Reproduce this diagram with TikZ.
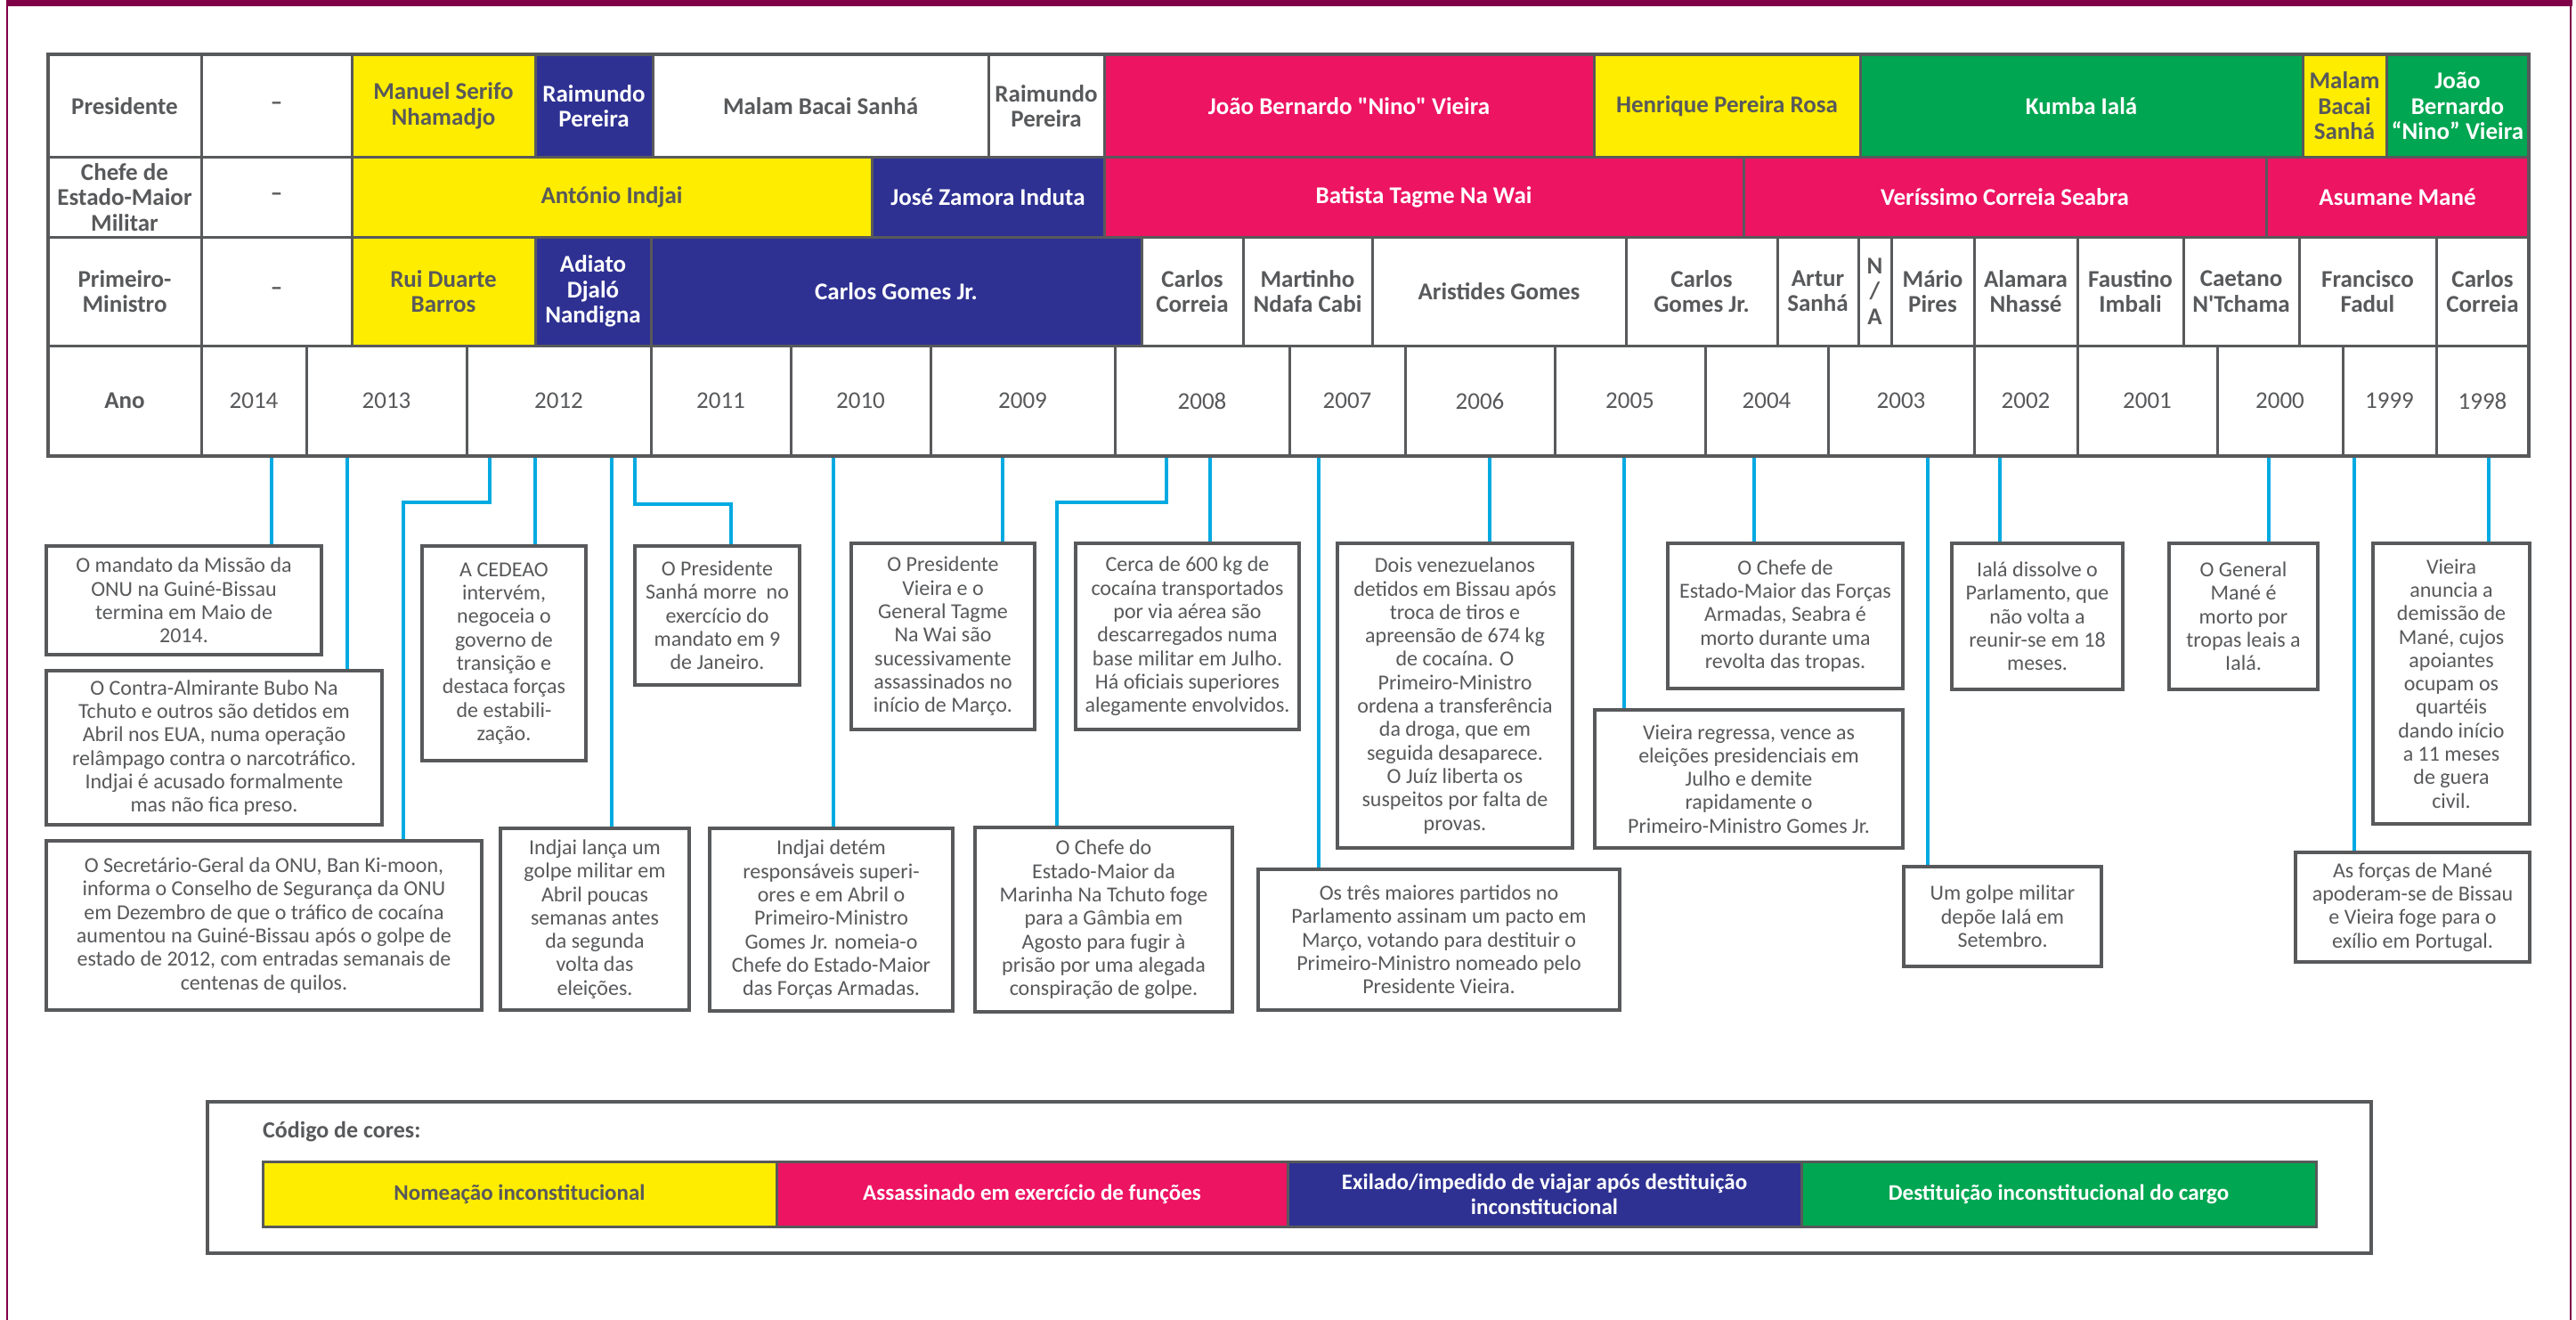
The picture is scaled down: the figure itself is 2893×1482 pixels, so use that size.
\documentclass[tikz,border=0pt]{standalone}
\usepackage{fontspec}
\setmainfont{Carlito}
\definecolor{ymain}{RGB}{255,237,0}
\definecolor{mag}{RGB}{237,20,98}
\definecolor{navy}{RGB}{46,49,146}
\definecolor{grn}{RGB}{0,166,81}
\definecolor{gline}{RGB}{88,89,91}
\definecolor{gtext}{RGB}{88,89,91}
\definecolor{cyanl}{RGB}{0,170,225}
\definecolor{framec}{RGB}{128,0,72}
\tikzset{
 tcell/.style={draw=gline, line width=3pt, inner sep=0pt, align=center, font=\fontsize{27}{28.5}\selectfont\bfseries},
 yfont/.style={font=\fontsize{27}{29}\selectfont},
 lfont/.style={font=\fontsize{25}{28}\selectfont\bfseries},
 evbox/.style={draw=gline, line width=4pt, fill=white, inner sep=0pt, align=center, text=gtext, font=\fontsize{24}{26.3}\selectfont},
 conn/.style={draw=cyanl, line width=4pt},
 legbox/.style={draw=gline, line width=4pt, fill=white, inner sep=0pt},
}
\newcommand{\mkcell}[9][]{\node[tcell,#1, fill=#7, text=#8, minimum width={(#5)-(#3)}, minimum height={(#6)-(#4)}] (#2) at ({((#3)+(#5))/2},{((#4)+(#6))/2}) {#9};}
\newcommand{\mkyear}[4]{\mkcell[yfont]{#1}{#2}{388}{#3}{512}{white}{gtext}{#4}}
\newcommand{\mkbox}[6]{\node[evbox, minimum width={(#4)-(#2)}, minimum height={(#5)-(#3)}] (#1) at ({((#2)+(#4))/2},{((#3)+(#5))/2}) {#6};}
\newcommand{\noq}{\addfontfeatures{Ligatures=TeXOff}}
\begin{document}
\begin{tikzpicture}[x=1pt,y=-1pt]
\useasboundingbox (0,0) rectangle (2893,1482);
% frame
\fill[framec] (7,0) rectangle (2889,7.5);
\draw[framec, line width=2.5pt] (8,0) -- (8,1482);
\draw[framec, line width=2.5pt] (2887,0) -- (2887,1482);

% connector start points
\coordinate (a1) at (305,512);
\coordinate (a2) at (390,512);
\coordinate (a3) at (550,512); \coordinate (k3) at (453,564);
\coordinate (a4) at (601,512);
\coordinate (a5) at (687,512);
\coordinate (a6) at (713,512); \coordinate (k6) at (821,566);
\coordinate (a7) at (936,512);
\coordinate (a8) at (1126,512);
\coordinate (a9) at (1310,512); \coordinate (k9) at (1187,564);
\coordinate (a10) at (1359,512);
\coordinate (a11) at (1481,512);
\coordinate (a12) at (1673,512);
\coordinate (a13) at (1824,512);
\coordinate (a14) at (1970,512);
\coordinate (a15) at (2165,512);
\coordinate (a16) at (2246,512);
\coordinate (a17) at (2548,512);
\coordinate (a18) at (2644,512);
\coordinate (a19) at (2795,512);

% event boxes
\mkbox{bA}{52}{613}{361}{735}{O mandato da Missão da\\ONU na Guiné-Bissau\\termina em Maio de\\2014.}
\mkbox{bB}{52}{753}{429}{926}{O Contra-Almirante Bubo Na\\Tchuto e outros são detidos em\\Abril nos EUA, numa operação\\relâmpago contra o narcotráfico.\\Indjai é acusado formalmente\\mas não fica preso.}
\mkbox{bC}{52}{944}{541}{1134}{O Secretário-Geral da ONU, Ban Ki-moon,\\informa o Conselho de Segurança da ONU\\em Dezembro de que o tráfico de cocaína\\aumentou na Guiné-Bissau após o golpe de\\estado de 2012, com entradas semanais de\\centenas de quilos.}
\mkbox{bD}{474}{613}{658}{854}{A CEDEAO\\intervém,\\negoceia o\\governo de\\transição e\\destaca forças\\de estabili-\\zação.}
\mkbox{bE}{713}{613}{898}{769}{O Presidente\\Sanhá morre~ no\\exercício do\\mandato em 9\\de Janeiro.}
\mkbox{bF}{562}{930}{774}{1134}{Indjai lança um\\golpe militar em\\Abril poucas\\semanas antes\\da segunda\\volta das\\eleições.}
\mkbox{bG}{797}{930}{1070}{1135}{Indjai detém\\responsáveis superi-\\ores e em Abril o\\Primeiro-Ministro\\Gomes Jr. nomeia-o\\Chefe do Estado-Maior\\das Forças Armadas.}
\mkbox{bH}{956}{610}{1162}{819}{O Presidente\\Vieira e o\\General Tagme\\Na Wai são\\sucessivamente\\assassinados no\\início de Março.}
\mkbox{bI}{1095}{929}{1384}{1136}{O Chefe do\\Estado-Maior da\\Marinha Na Tchuto foge\\para a Gâmbia em\\Agosto para fugir à\\prisão por uma alegada\\conspiração de golpe.}
\mkbox{bJ}{1208}{610}{1459}{819}{Cerca de 600 kg de\\cocaína transportados\\por via aérea são\\descarregados numa\\base militar em Julho.\\Há oficiais superiores\\alegamente envolvidos.}
\mkbox{bK}{1502}{610}{1766}{952}{Dois venezuelanos\\detidos em Bissau após\\troca de tiros e\\apreensão de 674 kg\\de cocaína. O\\Primeiro-Ministro\\ordena a transferência\\da droga, que em\\seguida desaparece.\\O Juíz liberta os\\suspeitos por falta de\\provas.}
\mkbox{bL}{1413}{976}{1819}{1134}{Os três maiores partidos no\\Parlamento assinam um pacto em\\Março, votando para destituir o\\Primeiro-Ministro nomeado pelo\\Presidente Vieira.}
\mkbox{bM}{1791}{797}{2137}{952}{Vieira regressa, vence as\\eleições presidenciais em\\Julho e demite\\rapidamente o\\Primeiro-Ministro Gomes Jr.}
\mkbox{bN}{1873}{610}{2137}{773}{O Chefe de\\Estado-Maior das Forças\\Armadas, Seabra é\\morto durante uma\\revolta das tropas.}
\mkbox{bO}{2138}{973}{2360}{1085}{Um golpe militar\\depõe Ialá em\\Setembro.}
\mkbox{bP}{2192}{610}{2384}{774}{Ialá dissolve o\\Parlamento, que\\não volta a\\reunir-se em 18\\meses.}
\mkbox{bQ}{2436}{610}{2603}{774}{O General\\Mané é\\morto por\\tropas leais a\\Ialá.}
\mkbox{bR}{2665}{610}{2841}{925}{Vieira\\anuncia a\\demissão de\\Mané, cujos\\apoiantes\\ocupam os\\quartéis\\dando início\\a 11 meses\\de guera\\civil.}
\mkbox{bS}{2578}{957}{2841}{1080}{As forças de Mané\\apoderam-se de Bissau\\e Vieira foge para o\\exílio em Portugal.}

% connectors
\draw[conn] (a1) -- (a1 |- bA.north);
\draw[conn] (a2) -- (a2 |- bB.north);
\draw[conn] (a3) |- (k3) -- (k3 |- bC.north);
\draw[conn] (a4) -- (a4 |- bD.north);
\draw[conn] (a5) -- (a5 |- bF.north);
\draw[conn] (a6) |- (k6) -- (k6 |- bE.north);
\draw[conn] (a7) -- (a7 |- bG.north);
\draw[conn] (a8) -- (a8 |- bH.north);
\draw[conn] (a9) |- (k9) -- (k9 |- bI.north);
\draw[conn] (a10) -- (a10 |- bJ.north);
\draw[conn] (a11) -- (a11 |- bL.north);
\draw[conn] (a12) -- (a12 |- bK.north);
\draw[conn] (a13) -- (a13 |- bM.north);
\draw[conn] (a14) -- (a14 |- bN.north);
\draw[conn] (a15) -- (a15 |- bO.north);
\draw[conn] (a16) -- (a16 |- bP.north);
\draw[conn] (a17) -- (a17 |- bQ.north);
\draw[conn] (a18) -- (a18 |- bS.north);
\draw[conn] (a19) -- (a19 |- bR.north);

% table: labels
\mkcell{l1}{54}{61}{226}{177}{white}{gtext}{Presidente}
\mkcell{l2}{54}{177}{226}{266}{white}{gtext}{Chefe de\\Estado-Maior\\Militar}
\mkcell{l3}{54}{266}{226}{388}{white}{gtext}{Primeiro-\\Ministro}
\mkcell{l4}{54}{388}{226}{512}{white}{gtext}{Ano}
% row 1
\mkcell{p1}{226}{61}{395}{177}{white}{gtext}{–}
\mkcell{p2}{395}{61}{601}{177}{ymain}{gtext}{Manuel Serifo\\Nhamadjo}
\mkcell{p3}{601}{61}{733}{177}{navy}{white}{Raimundo\\Pereira}
\mkcell{p4}{733}{61}{1110}{177}{white}{gtext}{Malam Bacai Sanhá}
\mkcell{p5}{1110}{61}{1240}{177}{white}{gtext}{Raimundo\\Pereira}
\mkcell{p6}{1240}{61}{1790}{177}{mag}{white}{\noq João Bernardo "Nino" Vieira}
\mkcell{p7}{1790}{61}{2089}{177}{ymain}{gtext}{Henrique Pereira Rosa}
\mkcell{p8}{2089}{61}{2586}{177}{grn}{white}{Kumba Ialá}
\mkcell{p9}{2586}{61}{2680}{177}{ymain}{gtext}{Malam\\Bacai\\Sanhá}
\mkcell{p10}{2680}{61}{2840}{177}{grn}{white}{João\\Bernardo\\“Nino” Vieira}
% row 2
\mkcell{c1}{226}{177}{395}{266}{white}{gtext}{–}
\mkcell{c2}{395}{177}{979}{266}{ymain}{gtext}{António Indjai}
\mkcell{c3}{979}{177}{1240}{266}{navy}{white}{José Zamora Induta}
\mkcell{c4}{1240}{177}{1958}{266}{mag}{white}{Batista Tagme Na Wai}
\mkcell{c5}{1958}{177}{2545}{266}{mag}{white}{Veríssimo Correia Seabra}
\mkcell{c6}{2545}{177}{2840}{266}{mag}{white}{Asumane Mané}
% row 3
\mkcell{m1}{226}{266}{395}{388}{white}{gtext}{–}
\mkcell{m2}{395}{266}{601}{388}{ymain}{gtext}{Rui Duarte\\Barros}
\mkcell{m3}{601}{266}{731}{388}{navy}{white}{Adiato\\Djaló\\Nandigna}
\mkcell{m4}{731}{266}{1282}{388}{navy}{white}{Carlos Gomes Jr.}
\mkcell{m5}{1282}{266}{1396}{388}{white}{gtext}{Carlos\\Correia}
\mkcell{m6}{1396}{266}{1541}{388}{white}{gtext}{Martinho\\Ndafa Cabi}
\mkcell{m7}{1541}{266}{1826}{388}{white}{gtext}{Aristides Gomes}
\mkcell{m8}{1826}{266}{1996}{388}{white}{gtext}{Carlos\\Gomes Jr.}
\mkcell{m9}{1996}{266}{2087}{388}{white}{gtext}{Artur\\Sanhá}
\mkcell{m10}{2087}{266}{2124}{388}{white}{gtext}{N\\/\\A}
\mkcell{m11}{2124}{266}{2217}{388}{white}{gtext}{Mário\\Pires}
\mkcell{m12}{2217}{266}{2333}{388}{white}{gtext}{Alamara\\Nhassé}
\mkcell{m13}{2333}{266}{2452}{388}{white}{gtext}{Faustino\\Imbali}
\mkcell{m14}{2452}{266}{2582}{388}{white}{gtext}{Caetano\\\noq N'Tchama}
\mkcell{m15}{2582}{266}{2736}{388}{white}{gtext}{Francisco\\Fadul}
\mkcell{m16}{2736}{266}{2840}{388}{white}{gtext}{Carlos\\Correia}
% row 4
\mkyear{y14}{226}{344}{2014}
\mkyear{y13}{344}{524}{2013}
\mkyear{y12}{524}{731}{2012}
\mkyear{y11}{731}{888}{2011}
\mkyear{y10}{888}{1045}{2010}
\mkyear{y09}{1045}{1252}{2009}
\mkyear{y08}{1252}{1448}{2008}
\mkyear{y07}{1448}{1578}{2007}
\mkyear{y06}{1578}{1746}{2006}
\mkyear{y05}{1746}{1915}{2005}
\mkyear{y04}{1915}{2053}{2004}
\mkyear{y03}{2053}{2217}{2003}
\mkyear{y02}{2217}{2333}{2002}
\mkyear{y01}{2333}{2490}{2001}
\mkyear{y00}{2490}{2631}{2000}
\mkyear{y99}{2631}{2736}{1999}
\mkyear{y98}{2736}{2840}{1998}
\draw[gline, line width=4.5pt] (54,61) rectangle (2840,512);

% legend
\node[legbox, minimum width=2430, minimum height=170] (leg) at (1448,1322) {};
\node[anchor=west, inner sep=0pt, text=gtext, font=\fontsize{26}{28}\selectfont\bfseries] (legt) at (295,1271) {Código de cores:};
\mkcell[lfont]{g1}{295}{1304}{872}{1377}{ymain}{gtext}{Nomeação inconstitucional}
\mkcell[lfont]{g2}{872}{1304}{1446}{1377}{mag}{white}{Assassinado em exercício de funções}
\mkcell[lfont]{g3}{1446}{1304}{2023}{1377}{navy}{white}{Exilado/impedido de viajar após destituição\\inconstitucional}
\mkcell[lfont]{g4}{2023}{1304}{2601}{1377}{grn}{white}{Destituição inconstitucional do cargo}
\end{tikzpicture}
\end{document}
